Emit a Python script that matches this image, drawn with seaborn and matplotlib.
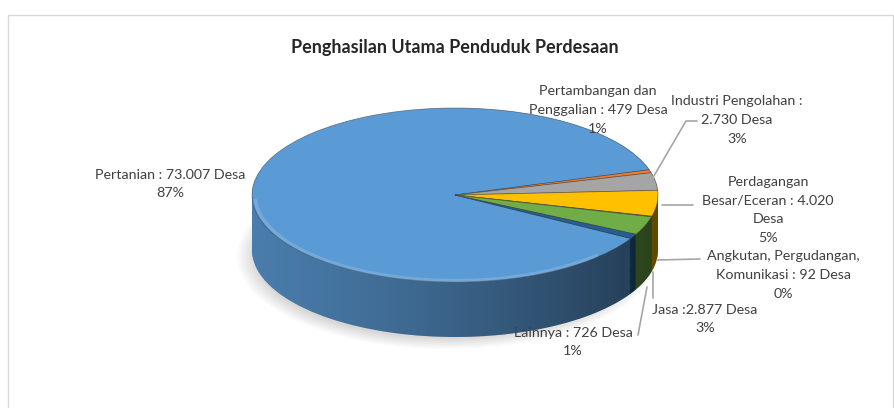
import numpy as np
import matplotlib
matplotlib.use("Agg")
import matplotlib.pyplot as plt
import seaborn as sns
from matplotlib.colors import to_rgb
from matplotlib.patches import Rectangle, Ellipse, Polygon

# Data penghasilan utama penduduk perdesaan
kategori = ["Pertanian", "Pertambangan dan Penggalian", "Industri Pengolahan",
            "Perdagangan Besar/Eceran", "Angkutan, Pergudangan, Komunikasi",
            "Jasa", "Lainnya"]
jumlah_desa = [73007, 479, 2730, 4020, 92, 2877, 726]
teks_label = [
    "Pertanian : 73.007 Desa",
    "Pertambangan dan\nPenggalian : 479 Desa",
    "Industri Pengolahan :\n2.730 Desa",
    "Perdagangan\nBesar/Eceran : 4.020\nDesa",
    "Angkutan, Pergudangan,\nKomunikasi : 92 Desa",
    "Jasa :2.877 Desa",
    "Lainnya : 726 Desa",
]
warna = ["#5B9BD5", "#ED7D31", "#A5A5A5", "#FFC000", "#4472C4", "#70AD47", "#255E91"]

# posisi label (piksel)
posisi_label = [(170, 184), (598, 110), (737, 120), (768, 210),
                (783, 275), (705, 319), (573, 342)]

sns.set_style("white")
plt.rcParams["font.family"] = ["Lato", "DejaVu Sans"]

W, H = 894, 408
fig = plt.figure(figsize=(W / 100, H / 100), dpi=100)

# skala elips: pusat (455,195), rx=203 px, ry=87 px, tebal 55 px
cx, cy, rx, ry, tebal = 455, 195, 203, 87, 55
ax = fig.add_axes([0, 0, 1, 1])
sudut_awal = 330

def gelap(c, f):
    r, g, b = to_rgb(c)
    return (r * f, g * f, b * f)

# sisi samping (tumpukan pie bergeser ke bawah)
warna_sisi = [gelap(c, 0.9) for c in warna]
n_lapis = 60
d = tebal / ry
for k in range(n_lapis, 0, -1):
    ax.pie(jumlah_desa, colors=warna_sisi, startangle=sudut_awal, counterclock=False,
           center=(0, -d * k / n_lapis), radius=1, wedgeprops=dict(linewidth=0, zorder=1))

# gradasi gelap dari kiri ke kanan pada sisi
t = np.linspace(0, 1, 256)
alpha = 0.1 + 0.32 * t + 0.16 * t ** 2
grad = np.zeros((1, 256, 4))
grad[..., 3] = alpha
th = np.linspace(0, np.pi, 100)
bentuk = np.vstack([np.column_stack([np.cos(th), np.sin(th)]),
                    np.column_stack([np.cos(th + np.pi), np.sin(th + np.pi) - d])])
klip = Polygon(bentuk, closed=True, transform=ax.transData, facecolor="none", edgecolor="none")
ax.add_patch(klip)
img = ax.imshow(grad, extent=(-1, 1, -1 - d, 1), aspect="auto", interpolation="bilinear",
                zorder=1.5)
img.set_clip_path(klip)

# permukaan atas
ax.pie(jumlah_desa, colors=warna, startangle=sudut_awal, counterclock=False,
       center=(0, 0), radius=1,
       wedgeprops=dict(linewidth=0.6, edgecolor=(0.25, 0.25, 0.25, 0.5), zorder=2))
# sorotan tepi depan
ths = np.linspace(np.pi * 1.02, np.pi * 1.75, 80)
ax.plot(0.985 * np.cos(ths), 0.985 * np.sin(ths), color="white", alpha=0.15, lw=2.5,
        zorder=3)

ax.set_aspect("auto")
ax.set_xlim(-cx / rx, (W - cx) / rx)
ax.set_ylim(-(H - cy) / ry, cy / ry)
ax.axis("off")

# lapisan atas untuk teks, garis dan bingkai (koordinat piksel)
ov = fig.add_axes([0, 0, 1, 1], facecolor="none")
ov.set_xlim(0, W)
ov.set_ylim(H, 0)
ov.axis("off")

# bayangan lembut di bawah pie
ax_bg = fig.add_axes([0, 0, 1, 1], facecolor="none", zorder=-1)
ax_bg.set_xlim(0, W)
ax_bg.set_ylim(H, 0)
ax_bg.axis("off")
for i in range(8):
    ax_bg.add_patch(Ellipse((cx - 8, cy + tebal + 6), 2 * rx + 14 - i * 5, 2 * ry + 12 - i * 3,
                            facecolor="black", alpha=0.018, edgecolor="none"))

total = sum(jumlah_desa)
for teks, v, (x, y) in zip(teks_label, jumlah_desa, posisi_label):
    persen = round(v / total * 100)
    ov.text(x, y, f"{teks}\n{persen}%", ha="center", va="center", fontsize=10.3,
            color="#404040", linespacing=1.68)

# garis penunjuk
abu = "#a6a6a6"
garis = [
    [(651, 181), (686, 121), (697, 121)],
    [(662, 205), (693, 205)],
    [(657, 260), (700, 259)],
    [(653, 272), (653, 298)],
    [(647, 287), (638, 335)],
]
for g in garis:
    xs, ys = zip(*g)
    ov.plot(xs, ys, color=abu, lw=1.2)

ov.add_patch(Rectangle((8, 15), 885, 400, facecolor="none", edgecolor="#d9d9d9", lw=1))

fig.text(455 / W, 1 - 47 / H, "Penghasilan Utama Penduduk Perdesaan", ha="center",
         va="center", fontsize=13, fontweight="bold", color="#262626")

fig.savefig("out.png", dpi=100)
